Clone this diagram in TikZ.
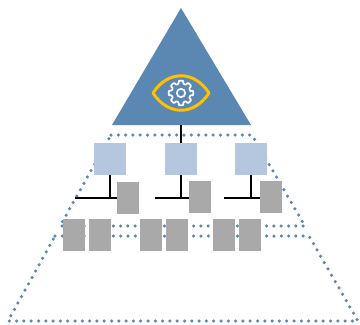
\documentclass[tikz,border=0pt]{standalone}
\usetikzlibrary{positioning}
\definecolor{pyrblue}{HTML}{5B88B2}
\definecolor{paleblue}{HTML}{B4C7DE}
\definecolor{boxgrey}{HTML}{A9A9A9}
\definecolor{eyegold}{HTML}{FFC000}

\begin{document}
\begin{tikzpicture}[
  x=1pt,y=-1pt,
  dots/.style={draw=pyrblue,line width=3.5pt,line cap=round,dash pattern=on 0pt off 7.3pt},
  link/.style={draw=black,line width=2.6pt},
  bluebox/.style={fill=paleblue,minimum width=32pt,minimum height=32pt,inner sep=0pt,outer sep=0pt},
  greybox/.style={fill=boxgrey,minimum width=22pt,minimum height=32pt,inner sep=0pt,outer sep=0pt},
  gearline/.style={draw=white,line width=1.7pt,line join=round}
]
\useasboundingbox (0,0) rectangle (360,325);

% --- Dotted lower levels
\draw[dots] (111,135) -- (252,135) -- (305,226) -- (60,226) -- cycle;
\draw[dots] (55,236) -- (309,236) -- (358,321) -- (8,321) -- cycle;

% --- Top triangle
\fill[pyrblue] (181,8) -- (251,125) -- (112,125) -- cycle;
\coordinate (triBase) at (181,125);

% --- Eye and gear
\def\eyeX{181}
\def\eyeY{93}
\draw[eyegold,line width=3pt,line join=round]
  (\eyeX-28,\eyeY) .. controls (\eyeX-13,\eyeY-23) and (\eyeX+13,\eyeY-23) .. (\eyeX+28,\eyeY)
  .. controls (\eyeX+13,\eyeY+23) and (\eyeX-13,\eyeY+23) .. cycle;
\begin{scope}[shift={(\eyeX,\eyeY)}]
  \draw[gearline,rounded corners=0.8pt] (-12:9.5)
    \foreach \a in {0,45,...,315}{
      -- ({\a-11}:12.5) -- ({\a+11}:12.5) -- ({\a+14}:9.5) -- ({\a+31}:9.5)
    } -- cycle;
  \draw[gearline] (0,0) circle (4.2);
\end{scope}

% --- Upper boxes
\foreach \x/\n in {110/A,181/B,251/C}
  \node[bluebox] (top\n) at (\x,159) {};

% --- Side boxes
\node[greybox] (sideA) at (128,198) {};
\node[greybox] (sideB) at (200,197) {};
\node[greybox] (sideC) at (271,197) {};

% --- Lower boxes
\foreach \x/\n in {74/a,100/b,151/c,177/d,224/e,250/f}
  \node[greybox] (low\n) at (\x,235) {};

% --- Connectors
\coordinate (busA) at (110,198);
\coordinate (busB) at (181,198);
\coordinate (busC) at (251,198);
\coordinate (endA) at (75,198);
\coordinate (endB) at (155,198);
\coordinate (endC) at (224,198);

\draw[link] (triBase) -- (topB.north);
\draw[link] (topA.south) -- (busA);
\draw[link] (topB.south) -- (busB);
\draw[link] (topC.south) -- (busC);
\draw[link] (endA) -- (busA -| sideA.west);
\draw[link] (endB) -- (busB -| sideB.west);
\draw[link] (endC) -- (busC -| sideC.west);

\end{tikzpicture}
\end{document}
